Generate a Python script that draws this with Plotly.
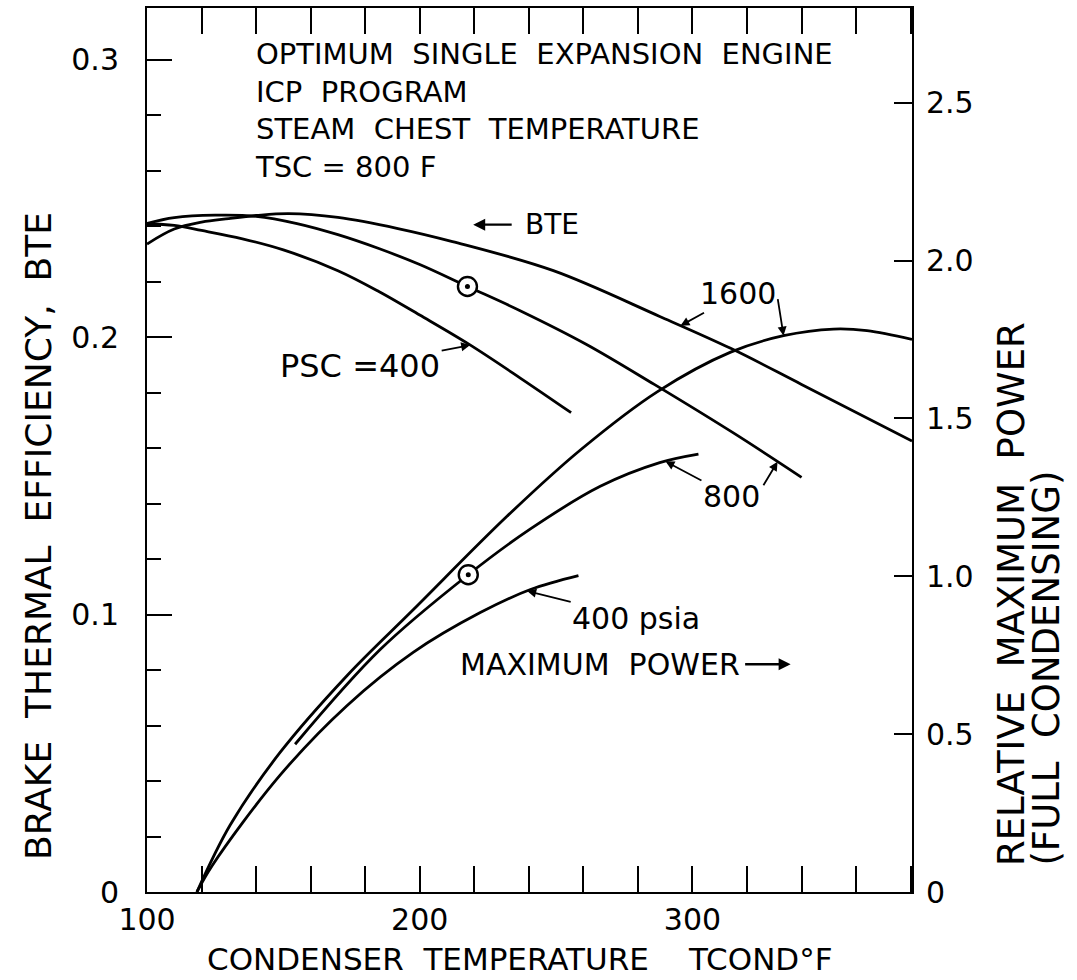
import numpy as np
import plotly.graph_objects as go

# ---------------- data ----------------
# Brake thermal efficiency (left axis) vs condenser temperature (F)
bte_1600_x = [100, 110, 120, 130, 140, 152, 170, 192, 212, 249, 288, 314, 340, 380.5]
bte_1600_y = [0.2336, 0.2390, 0.2415, 0.2428, 0.2439, 0.2446, 0.2432, 0.2392, 0.2345,
              0.2240, 0.2075, 0.1960, 0.1830, 0.1626]
bte_800_x = [100, 110, 125, 140, 155, 170, 185, 200, 217.5, 237, 261, 286, 315, 340]
bte_800_y = [0.2410, 0.2431, 0.2440, 0.2436, 0.2410, 0.2370, 0.2320, 0.2262, 0.2183,
             0.2095, 0.1975, 0.1830, 0.1655, 0.1495]
bte_400_x = [100, 110, 120, 135, 150, 170, 185, 200, 218, 237, 255.5]
bte_400_y = [0.2410, 0.2403, 0.2385, 0.2355, 0.2315, 0.2240, 0.2165, 0.2080, 0.1975,
             0.1852, 0.1728]

# Relative maximum power (right axis)
pow_1600_x = [118.3, 130.5, 148.8, 173.4, 197.6, 232, 258.9, 287.2, 314, 333.4, 351.7, 364, 380.5]
pow_1600_y = [0, 0.212, 0.442, 0.686, 0.894, 1.190, 1.400, 1.585, 1.710, 1.762, 1.783, 1.778, 1.750]
pow_800_x = [154.3, 185.5, 217.8, 240.6, 266.2, 288, 302.2]
pow_800_y = [0.468, 0.768, 1.005, 1.150, 1.285, 1.360, 1.387]
pow_400_x = [118.3, 124, 148.8, 173.4, 197.6, 222.2, 240.6, 258.2]
pow_400_y = [0, 0.085, 0.370, 0.591, 0.759, 0.885, 0.958, 1.002]

# circled design points
pt_bte_x, pt_bte_y = [217.5], [0.2183]
pt_pow_x, pt_pow_y = [217.8], [1.005]

# axis ticks
x_major = [100, 200, 300]
x_major_labels = ["100", "200", "300"]
x_minor = [120, 140, 160, 180, 220, 240, 260, 280, 320, 340, 360, 380]
y_major = [0, 0.1, 0.2, 0.3]
y_major_labels = ["0", "0.1", "0.2", "0.3"]
y_minor = [0.02, 0.04, 0.06, 0.08, 0.12, 0.14, 0.16, 0.18, 0.22, 0.24, 0.26, 0.28]
y2_major = [0, 0.5, 1.0, 1.5, 2.0, 2.5]
y2_major_labels = ["0", "0.5", "1.0", "1.5", "2.0", "2.5"]

FONT = "DejaVu Sans"
INK = "black"

fig = go.Figure()
line = dict(color=INK, width=2.8, shape="spline", smoothing=1.0)

for xs, ys in [(bte_1600_x, bte_1600_y), (bte_800_x, bte_800_y), (bte_400_x, bte_400_y)]:
    fig.add_trace(go.Scatter(x=xs, y=ys, mode="lines", line=line, yaxis="y",
                             hoverinfo="skip", showlegend=False))
for xs, ys in [(pow_1600_x, pow_1600_y), (pow_800_x, pow_800_y), (pow_400_x, pow_400_y)]:
    fig.add_trace(go.Scatter(x=xs, y=ys, mode="lines", line=line, yaxis="y2",
                             hoverinfo="skip", showlegend=False))

# circled points
for xs, ys, ax in [(pt_bte_x, pt_bte_y, "y"), (pt_pow_x, pt_pow_y, "y2")]:
    fig.add_trace(go.Scatter(x=xs, y=ys, mode="markers", yaxis=ax, showlegend=False,
                             hoverinfo="skip",
                             marker=dict(symbol="circle", size=19, color="white",
                                         line=dict(color=INK, width=2.4))))
    fig.add_trace(go.Scatter(x=xs, y=ys, mode="markers", yaxis=ax, showlegend=False,
                             hoverinfo="skip",
                             marker=dict(symbol="circle", size=5, color=INK)))

ann = []


def txt(text, x, y, xref="x", yref="y", size=32, xanchor="center", yanchor="middle", **kw):
    ann.append(dict(text=text, x=x, y=y, xref=xref, yref=yref, showarrow=False,
                    xanchor=xanchor, yanchor=yanchor,
                    font=dict(family=FONT, size=size, color=INK), **kw))


def arrow(text, x, y, ax, ay, yref="y", size=30, head=2, width=1.8, **kw):
    ann.append(dict(text=text, x=x, y=y, xref="x", yref=yref, ax=ax, ay=ay,
                    axref="pixel", ayref="pixel", showarrow=True, arrowhead=head,
                    arrowsize=1.0, arrowwidth=width, arrowcolor=INK,
                    font=dict(family=FONT, size=size, color=INK), **kw))


# title block (one multi-line text)
txt("OPTIMUM  SINGLE  EXPANSION  ENGINE<br>ICP  PROGRAM<br>STEAM  CHEST  TEMPERATURE"
    "<br>TSC = 800 F", 138.9, 0.2816, xanchor="left", size=29, align="left")

# BTE arrow label
arrow("BTE", 219.6, 0.2406, 79, 0, size=28, head=2, width=2.4, startstandoff=12)
# MAXIMUM POWER arrow label
arrow("MAXIMUM  POWER", 336.0, 0.7215, -191, 0, yref="y2", size=30, head=2, width=2.4,
      startstandoff=4)

# PSC = 400 leader to BTE 400 curve
xh = 218.5
arrow("PSC =400", xh, float(np.interp(xh, bte_400_x, bte_400_y)), -110, 21, size=32, head=2)
# 1600 leaders
xh = 295.6
arrow("1600", xh, float(np.interp(xh, bte_1600_x, bte_1600_y)), 58, -32, size=30, head=2)
xh = 333.4
arrow("", xh, float(np.interp(xh, pow_1600_x, pow_1600_y)), -6, -38, yref="y2", head=2)
# 800 leaders
xh = 290.1
arrow("800", xh, float(np.interp(xh, pow_800_x, pow_800_y)), 66, 35, yref="y2", size=30, head=2)
xh = 331.2
arrow("", xh, float(np.interp(xh, bte_800_x, bte_800_y)), -15, 25, head=2)
# 400 psia leader
xh = 239.4
arrow("400 psia", xh, float(np.interp(xh, pow_400_x, pow_400_y)), 109, 27, yref="y2",
      size=30, head=2)

# axis titles
txt("CONDENSER  TEMPERATURE", 0.3673, -0.0762, xref="paper", yref="paper", size=31)
txt("TCOND°F", 0.8026, -0.0762, xref="paper", yref="paper", size=31)
txt("BRAKE  THERMAL  EFFICIENCY,  BTE", -0.1425, 0.0339, xref="paper", yref="paper",
    size=36, yanchor="bottom", textangle=-90)
txt("RELATIVE  MAXIMUM  POWER", 1.1294, 0.0271, xref="paper", yref="paper",
    size=37, yanchor="bottom", textangle=-90)
txt("(FULL  CONDENSING)", 1.1765, 0.0271, xref="paper", yref="paper",
    size=37, yanchor="bottom", textangle=-90)

axis_common = dict(showgrid=False, zeroline=False, showline=True, linecolor=INK,
                   linewidth=2, ticks="inside", tickcolor=INK, tickwidth=2,
                   tickfont=dict(family=FONT, size=30, color=INK))

fig.update_layout(
    width=1077, height=980,
    margin=dict(l=147, r=165, t=6, b=88),
    paper_bgcolor="white", plot_bgcolor="white",
    showlegend=False,
    font=dict(family=FONT, size=30, color=INK),
    xaxis=dict(range=[100, 380.5], tickmode="array", tickvals=x_major,
               ticktext=x_major_labels, ticklen=26, mirror="allticks",
               ticklabelstandoff=0,
               minor=dict(tickmode="array", tickvals=x_minor, ticks="inside",
                          ticklen=13, tickwidth=2, tickcolor=INK, showgrid=False),
               **axis_common),
    yaxis=dict(range=[0, 0.3187], tickmode="array", tickvals=y_major,
               ticktext=y_major_labels, ticklen=25, mirror=False,
               ticklabelstandoff=20,
               minor=dict(tickmode="array", tickvals=y_minor, ticks="inside",
                          ticklen=14, tickwidth=2, tickcolor=INK, showgrid=False),
               **axis_common),
    yaxis2=dict(range=[0, 2.8], overlaying="y", side="right", tickmode="array",
                tickvals=y2_major, ticktext=y2_major_labels, ticklen=18,
                ticklabelstandoff=6, **axis_common),
    annotations=ann,
)

fig.write_html("out.html")
